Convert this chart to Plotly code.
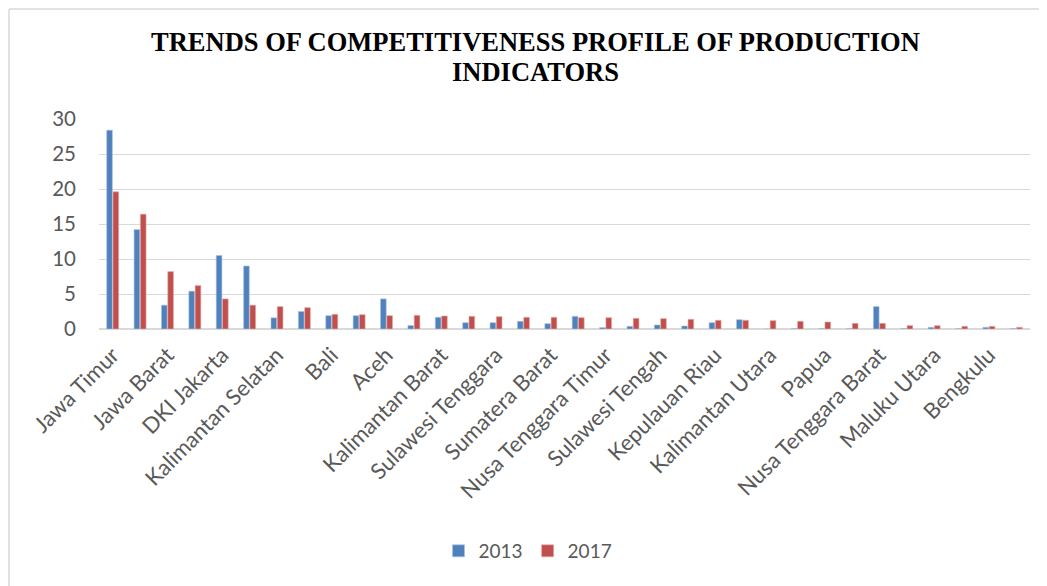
import plotly.graph_objects as go

provinces = [
    "Jawa Timur", "Jawa Tengah", "Jawa Barat", "Banten", "DKI Jakarta",
    "Sumatera Utara", "Kalimantan Selatan", "Kalimantan Timur", "Bali",
    "Sulawesi Selatan", "Aceh", "Riau", "Kalimantan Barat", "Sumatera Selatan",
    "Sulawesi Tenggara", "Lampung", "Sumatera Barat", "DI Yogyakarta",
    "Nusa Tenggara Timur", "Kalimantan Tengah", "Sulawesi Tengah", "Jambi",
    "Kepulauan Riau", "Kepulauan Bangka Belitung", "Kalimantan Utara",
    "Sulawesi Utara", "Papua", "Papua Barat", "Nusa Tenggara Barat",
    "Gorontalo", "Maluku Utara", "Maluku", "Bengkulu", "Sulawesi Barat",
]

values_2013 = [28.4, 14.2, 3.4, 5.4, 10.5, 9.0, 1.6, 2.5, 1.9, 1.9, 4.3, 0.5,
               1.67, 0.9, 0.9, 1.1, 0.76, 1.81, 0.2, 0.38, 0.57, 0.43, 0.9, 1.33,
               0.0, 0.05, 0.05, 0.05, 3.2, 0.05, 0.24, 0.05, 0.24, 0.05]

values_2017 = [19.6, 16.4, 8.2, 6.2, 4.3, 3.4, 3.2, 3.05, 2.1, 2.05, 1.9, 1.95,
               1.86, 1.81, 1.76, 1.67, 1.67, 1.62, 1.62, 1.52, 1.48, 1.38, 1.24, 1.24,
               1.19, 1.1, 1.0, 0.81, 0.81, 0.48, 0.48, 0.38, 0.38, 0.24]

shown_labels = provinces[::2]
y_ticks = [0, 5, 10, 15, 20, 25, 30]
title_lines = ["TRENDS OF COMPETITIVENESS PROFILE OF PRODUCTION", "INDICATORS"]

# page is drawn with an 8px body offset; coordinates below are figure coords
OFF = 8
W, H = 1047, 586
L = 99 - OFF
T = 119 - OFF
Rr = 1030 - OFF
Bb = 329 - OFF
pw, ph = Rr - L, Bb - T


def px_x(sx):
    return (sx - OFF - L) / pw


def px_y(sy):
    return (Bb - (sy - OFF)) / ph


fig = go.Figure()
fig.add_bar(name="2013", x=provinces, y=values_2013,
            marker=dict(color="#4F81BD", line=dict(color="#A9C1E0", width=0.6)))
fig.add_bar(name="2017", x=provinces, y=values_2017,
            marker=dict(color="#C0504D", line=dict(color="#E3A8A6", width=0.6)))

border = "#D9D9D9"
bx, by = OFF + 1, OFF + 1
fig.add_shape(type="line", xref="paper", yref="paper",
              x0=px_x(bx), x1=px_x(bx), y0=px_y(by), y1=px_y(H + OFF + 20),
              line=dict(color=border, width=1.5))
fig.add_shape(type="line", xref="paper", yref="paper",
              x0=px_x(bx), x1=px_x(W + OFF + 20), y0=px_y(by), y1=px_y(by),
              line=dict(color=border, width=1.5))

for text, sy in zip(title_lines, [42, 72]):
    fig.add_annotation(text=f"<b>{text}</b>", xref="paper", yref="paper",
                       x=px_x(535), y=px_y(sy), xanchor="center", yanchor="middle",
                       showarrow=False,
                       font=dict(family="Liberation Serif", size=26.5, color="black"))

fig.update_layout(
    width=W, height=H,
    margin=dict(l=L, r=W - Rr, t=T, b=H - Bb),
    paper_bgcolor="white", plot_bgcolor="white",
    barmode="group", bargap=0.54, bargroupgap=0.1,
    font=dict(family="Lato", color="#595959"),
    showlegend=True,
    legend=dict(orientation="h", x=(528 - OFF) / W, xref="container", xanchor="center",
                y=1 - (551 - OFF) / H, yref="container", yanchor="middle",
                font=dict(size=19, color="#595959"), itemwidth=30,
                traceorder="normal"),
    xaxis=dict(type="category", tickmode="array", tickvals=shown_labels,
               ticktext=shown_labels, tickangle=-45, tickfont=dict(size=22, color="#595959"),
               showgrid=False, showline=False, ticks="", ticklabelstandoff=8),
    yaxis=dict(range=[0, 30], tickvals=y_ticks, showgrid=True, gridcolor="#D9D9D9",
               gridwidth=1.2, zeroline=True, zerolinecolor="#D9D9D9", zerolinewidth=1.5,
               tickfont=dict(size=20.5, color="#595959"), showline=False,
               ticks="", ticklabelstandoff=22),
)

fig.write_html("out.html")
